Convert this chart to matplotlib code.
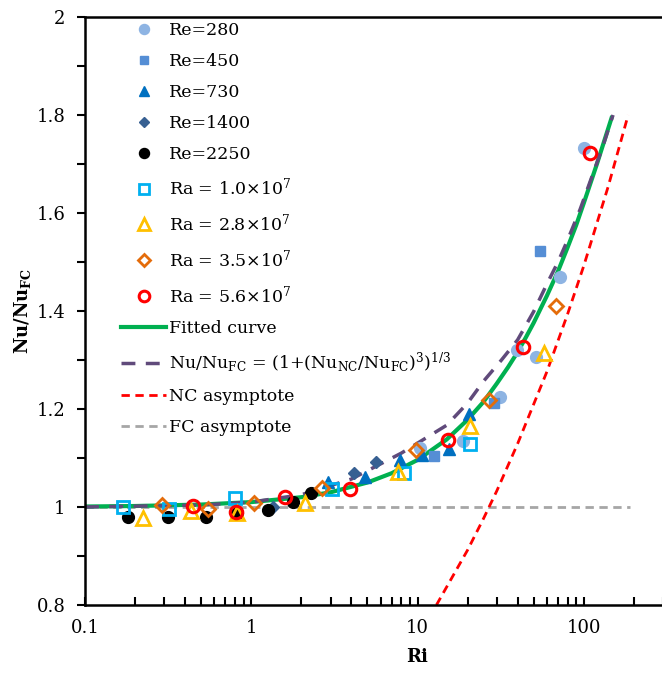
import matplotlib.pyplot as plt
from matplotlib.ticker import FixedLocator, NullFormatter

plt.rcParams['font.family'] = ['DejaVu Serif']
plt.rcParams['mathtext.fontset'] = 'dejavuserif'

re280_ri = [10.4, 18.7, 31.2, 39.6, 51.4, 71.7, 100]
re280_nu = [1.12, 1.135, 1.224, 1.32, 1.306, 1.469, 1.733]
re450_ri = [12.5, 28.7, 54.3]
re450_nu = [1.104, 1.212, 1.522]
re730_ri = [2.91, 4.8, 7.8, 10.7, 15.4, 20.3]
re730_nu = [1.051, 1.061, 1.096, 1.106, 1.118, 1.190]
re1400_ri = [1.35, 4.17, 5.66]
re1400_nu = [1.0, 1.069, 1.092]
re2250_ri = [0.181, 0.316, 0.536, 0.824, 1.26, 1.79, 2.30]
re2250_nu = [0.980, 0.980, 0.980, 0.988, 0.994, 1.010, 1.029]

ra10_ri = [0.169, 0.32, 0.80, 3.08, 8.35, 20.6]
ra10_nu = [1.0, 0.996, 1.018, 1.037, 1.069, 1.129]
ra28_ri = [0.223, 0.435, 0.82, 2.11, 7.59, 20.6, 57.4]
ra28_nu = [0.978, 0.992, 0.988, 1.008, 1.071, 1.165, 1.314]
ra35_ri = [0.291, 0.551, 1.04, 2.68, 9.86, 26.8, 67.8]
ra35_nu = [1.004, 0.996, 1.008, 1.039, 1.116, 1.218, 1.410]
ra56_ri = [0.448, 0.81, 1.60, 3.95, 15.2, 42.9, 108.6]
ra56_nu = [1.002, 0.990, 1.020, 1.037, 1.137, 1.327, 1.722]

# Curves
fit_ri = [0.1, 0.2, 0.5, 1, 2, 3, 5, 7, 10, 15, 20, 25, 30, 35, 40, 45, 50,
          60, 70, 80, 90, 100, 120, 147]
fit_nu = [1.001, 1.002, 1.005, 1.010, 1.020, 1.030, 1.050, 1.069, 1.096, 1.138,
          1.178, 1.215, 1.252, 1.285, 1.316, 1.347, 1.376, 1.431, 1.481, 1.530,
          1.575, 1.620, 1.700, 1.794]
corr_ri = [0.1, 0.5, 1, 2, 4, 8, 15, 20, 25, 32, 40, 50, 60, 70, 80, 95, 110,
           130, 150]
corr_nu = [1.0, 1.004, 1.01, 1.025, 1.057, 1.11, 1.167, 1.212, 1.257, 1.300,
           1.341, 1.399, 1.455, 1.500, 1.545, 1.607, 1.667, 1.735, 1.80]
nc_ri = [13, 20, 25, 30, 40, 60, 80, 100, 140, 185]
nc_nu = [0.80, 0.912, 0.977, 1.033, 1.129, 1.276, 1.394, 1.492, 1.653, 1.80]
fc_ri = [0.1, 190]
fc_nu = [1.0, 1.0]

fig = plt.figure(figsize=(6.62, 6.75), dpi=100)
ax = fig.add_axes([85 / 662, 70 / 675, 665 / 662, 588 / 675])

ms = 8.5
ax.plot(re280_ri, re280_nu, 'o', ls='none', color='#8EB4E3', ms=ms, label='Re=280', zorder=3)
ax.plot(re450_ri, re450_nu, 's', ls='none', color='#558ED5', ms=ms - 1, label='Re=450', zorder=3)
ax.plot(re730_ri, re730_nu, '^', ls='none', color='#0070C0', ms=ms, label='Re=730', zorder=3)
ax.plot(re1400_ri, re1400_nu, 'D', ls='none', color='#376092', ms=ms - 2.5, label='Re=1400', zorder=3)
ax.plot(re2250_ri, re2250_nu, 'o', ls='none', color='black', ms=ms, label='Re=2250', zorder=3)

ax.plot(ra10_ri, ra10_nu, 's', ls='none', mfc='none', mec='#00B0F0', mew=2, ms=ms,
        label=r'Ra = 1.0$\times$10$^{7}$', zorder=4)
ax.plot(ra28_ri, ra28_nu, '^', ls='none', mfc='none', mec='#FFC000', mew=2, ms=ms + 1,
        label=r'Ra = 2.8$\times$10$^{7}$', zorder=4)
ax.plot(ra35_ri, ra35_nu, 'D', ls='none', mfc='none', mec='#E46C0A', mew=2, ms=ms - 1,
        label=r'Ra = 3.5$\times$10$^{7}$', zorder=4)
ax.plot(ra56_ri, ra56_nu, 'o', ls='none', mfc='none', mec='#FF0000', mew=2.2, ms=ms + 0.5,
        label=r'Ra = 5.6$\times$10$^{7}$', zorder=4)

ax.plot(fit_ri, fit_nu, color='#00B050', lw=3, label='Fitted curve', zorder=2)
ax.plot(corr_ri, corr_nu, color='#604A7B', lw=2.5, dashes=(4, 3),
        label=r'Nu/Nu$_{\mathregular{FC}}$ = (1+(Nu$_{\mathregular{NC}}$/Nu$_{\mathregular{FC}}$)$^{3}$)$^{1/3}$',
        zorder=2)
ax.plot(nc_ri, nc_nu, color='#FF0000', lw=2, dashes=(3, 2), label='NC asymptote', zorder=2)
ax.plot(fc_ri, fc_nu, color='#A6A6A6', lw=2, dashes=(3, 2), label='FC asymptote', zorder=1)

ax.set_xscale('log')
ax.set_xlim(0.1, 1000)
ax.set_ylim(0.8, 2.0)
ax.set_xticks([0.1, 1, 10, 100])
ax.set_xticklabels(['0.1', '1', '10', '100'])
ax.xaxis.set_minor_locator(FixedLocator([m * 10.0 ** e for e in range(-1, 3) for m in range(2, 10)]))
ax.xaxis.set_minor_formatter(NullFormatter())
ax.set_yticks([0.8, 1.0, 1.2, 1.4, 1.6, 1.8, 2.0])
ax.set_yticklabels(['0.8', '1', '1.2', '1.4', '1.6', '1.8', '2'])
ax.set_yticks([0.9, 1.1, 1.3, 1.5, 1.7, 1.9], minor=True)

ax.tick_params(axis='x', which='both', direction='in', length=6, width=1.5, labelsize=13, pad=10)
ax.tick_params(axis='y', which='both', direction='out', length=6, width=1.5, labelsize=13, pad=8)
for s in ax.spines.values():
    s.set_linewidth(1.8)

ax.set_xlabel('Ri', fontsize=13, fontweight='bold', labelpad=8)
ax.set_ylabel(r'Nu/Nu$_{\mathbf{FC}}$', fontsize=13, fontweight='bold', labelpad=3)

ax.legend(loc='upper left', bbox_to_anchor=(0.052, 0.994), frameon=False, fontsize=12.5,
          handlelength=2.6, handletextpad=0.15, labelspacing=0.8, borderaxespad=0,
          borderpad=0.1, numpoints=1, markerscale=0.85)

fig.savefig('out.png', dpi=100)
